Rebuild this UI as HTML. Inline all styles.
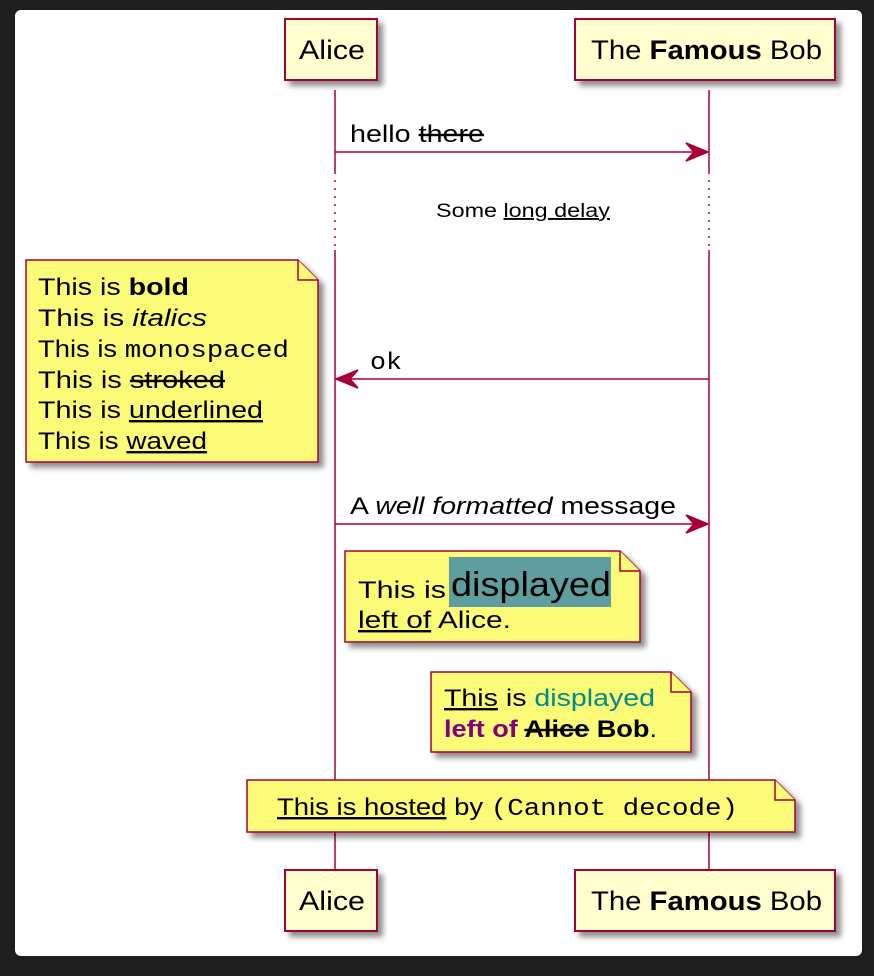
<!DOCTYPE html>
<html><head><meta charset="utf-8"><style>
html,body{margin:0;padding:0;background:#1e1e1e;}
svg{display:block;}
text{font-family:"Liberation Sans",Arial,sans-serif;fill:#000;}
.m{font-family:"Liberation Mono","DejaVu Sans Mono",monospace;}
</style></head><body>
<svg width="874" height="976" viewBox="0 0 874 976" xmlns="http://www.w3.org/2000/svg">
<defs>
<filter id="sh" x="-10%" y="-10%" width="130%" height="140%"><feGaussianBlur in="SourceAlpha" stdDeviation="3"/><feOffset dx="5" dy="5"/><feComponentTransfer><feFuncA type="linear" slope="0.45"/></feComponentTransfer><feMerge><feMergeNode/><feMergeNode in="SourceGraphic"/></feMerge></filter>
</defs>
<rect x="15" y="10" width="847" height="946" rx="6" fill="#fff"/>
<g stroke="#a80036" stroke-width="1.5" fill="none">
<line x1="335" y1="90" x2="335" y2="172"/><line x1="335" y1="172" x2="335" y2="248" stroke-dasharray="2,6"/><line x1="335" y1="250" x2="335" y2="870"/>
<line x1="709" y1="90" x2="709" y2="172"/><line x1="709" y1="172" x2="709" y2="248" stroke-dasharray="2,6"/><line x1="709" y1="250" x2="709" y2="870"/>
</g>
<g fill="#fefece" stroke="#a80036" stroke-width="2" filter="url(#sh)">
<rect x="285" y="19" width="92" height="61"/><rect x="575" y="19" width="260" height="61"/>
<rect x="285" y="870" width="92" height="61"/><rect x="575" y="870" width="260" height="61"/>
</g>
<g font-size="27">
<text x="299" y="59" textLength="66" lengthAdjust="spacingAndGlyphs">Alice</text>
<text x="591" y="59" textLength="231" lengthAdjust="spacingAndGlyphs">The <tspan font-weight="bold">Famous</tspan> Bob</text>
<text x="299" y="910" textLength="66" lengthAdjust="spacingAndGlyphs">Alice</text>
<text x="591" y="910" textLength="231" lengthAdjust="spacingAndGlyphs">The <tspan font-weight="bold">Famous</tspan> Bob</text>
</g>
<g stroke="#a80036" stroke-width="1.5" fill="#a80036">
<line x1="335" y1="152" x2="706" y2="152"/><path d="M708,152 L686,143 L694,152 L686,161 Z"/>
<line x1="338" y1="379" x2="709" y2="379"/><path d="M336,379 L358,370 L350,379 L358,388 Z"/>
<line x1="335" y1="524" x2="706" y2="524"/><path d="M708,524 L686,515 L694,524 L686,533 Z"/>
</g>
<text x="350" y="142" font-size="24" textLength="134" lengthAdjust="spacingAndGlyphs">hello <tspan text-decoration="line-through">there</tspan></text>
<text x="436" y="217" font-size="19" textLength="174" lengthAdjust="spacingAndGlyphs">Some <tspan text-decoration="underline">long delay</tspan></text>
<text x="370" y="369" font-size="24" class="m" textLength="32" lengthAdjust="spacingAndGlyphs">ok</text>
<text x="350" y="514" font-size="24" textLength="326" lengthAdjust="spacingAndGlyphs">A <tspan font-style="italic">well formatted</tspan> message</text>
<g fill="#fbfb77" stroke="#a80036" stroke-width="1.5" filter="url(#sh)">
<path d="M26,260 L298,260 L318,280 L318,462 L26,462 Z"/>
<path d="M345,551 L620,551 L640,571 L640,642 L345,642 Z"/>
<path d="M431,672 L671,672 L691,692 L691,752 L431,752 Z"/>
<path d="M247,780 L775,780 L795,800 L795,832 L247,832 Z"/>
</g>
<g fill="#fbfb77" stroke="#a80036" stroke-width="1.5">
<path d="M298,260 L298,280 L318,280"/><path d="M620,551 L620,571 L640,571"/><path d="M671,672 L671,692 L691,692"/><path d="M775,780 L775,800 L795,800"/>
</g>
<g font-size="24">
<text x="38" y="295" textLength="151" lengthAdjust="spacingAndGlyphs">This is <tspan font-weight="bold">bold</tspan></text>
<text x="38" y="326" textLength="169" lengthAdjust="spacingAndGlyphs">This is <tspan font-style="italic">italics</tspan></text>
<text x="38" y="357" textLength="251" lengthAdjust="spacingAndGlyphs">This is <tspan class="m">monospaced</tspan></text>
<text x="38" y="388" textLength="187" lengthAdjust="spacingAndGlyphs">This is <tspan text-decoration="line-through">stroked</tspan></text>
<text x="38" y="418" textLength="225" lengthAdjust="spacingAndGlyphs">This is <tspan text-decoration="underline">underlined</tspan></text>
<text x="38" y="449" textLength="169" lengthAdjust="spacingAndGlyphs">This is <tspan text-decoration="underline">waved</tspan></text>
</g>
<rect x="449" y="557" width="162" height="50" fill="#5f9ea0"/>
<text x="358" y="598" font-size="24" textLength="88" lengthAdjust="spacingAndGlyphs">This is</text>
<text x="451" y="596" font-size="34" textLength="160" lengthAdjust="spacingAndGlyphs">displayed</text>
<text x="358" y="628" font-size="24" textLength="153" lengthAdjust="spacingAndGlyphs"><tspan text-decoration="underline">left of</tspan> Alice.</text>
<text x="444" y="706" font-size="24" textLength="211" lengthAdjust="spacingAndGlyphs"><tspan text-decoration="underline">This</tspan> is <tspan style="fill:#008b8b">displayed</tspan></text>
<text x="444" y="737" font-size="24" font-weight="bold" textLength="213" lengthAdjust="spacingAndGlyphs"><tspan style="fill:#800080">left of</tspan> <tspan text-decoration="line-through">Alice</tspan> Bob<tspan font-weight="normal">.</tspan></text>
<text x="277" y="815" font-size="24" textLength="461" lengthAdjust="spacingAndGlyphs"><tspan text-decoration="underline">This is hosted</tspan> by <tspan class="m">(Cannot decode)</tspan></text>
</svg>
</body></html>
